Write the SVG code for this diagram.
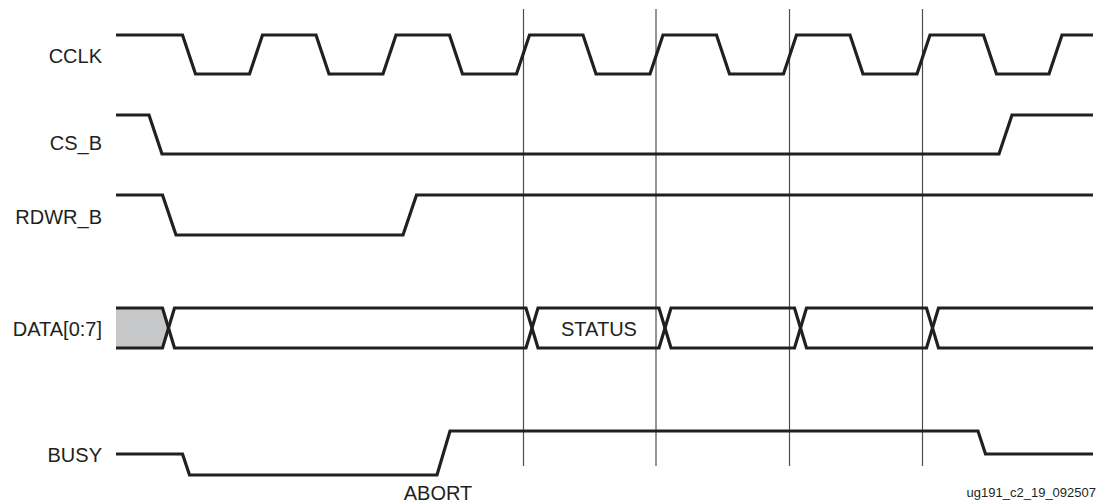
<svg xmlns="http://www.w3.org/2000/svg" width="1099" height="504" viewBox="0 0 1099 504">
<style>
.sig{fill:none;stroke:#231f20;stroke-width:3.2;stroke-linejoin:miter}
.grid{stroke:#4d4d4f;stroke-width:1.2}
.lbl{font-family:"Liberation Sans",Arial,sans-serif;font-size:20px;fill:#231f20}
.note{font-family:"Liberation Sans",Arial,sans-serif;font-size:13px;fill:#231f20}
</style>
<rect width="1099" height="504" fill="#ffffff"/>
<g id="connectors">
<line class="grid" x1="523.5" y1="9" x2="523.5" y2="466"/>
<line class="grid" x1="656" y1="9" x2="656" y2="466"/>
<line class="grid" x1="789.5" y1="9" x2="789.5" y2="466"/>
<line class="grid" x1="922.5" y1="9" x2="922.5" y2="466"/>
</g>
<g id="cclk">
<text class="lbl" x="102" y="63" text-anchor="end">CCLK</text>
<path class="sig" d="M116,35 H182.5 L195.5,74 H249.5 L262.5,35 H316 L329,74 H383 L396,35 H449.5 L462.5,74 H516.5 L529.5,35 H583 L596,74 H650 L663,35 H716.5 L729.5,74 H783.5 L796.5,35 H850 L863,74 H917 L930,35 H983.5 L996.5,74 H1049 L1062,35 H1093"/>
</g>
<g id="cs_b">
<text class="lbl" x="102" y="149.5" text-anchor="end">CS_B</text>
<path class="sig" d="M116,115 H149 L162,154 H999 L1012,115 H1093"/>
</g>
<g id="rdwr_b">
<text class="lbl" x="102" y="223.5" text-anchor="end">RDWR_B</text>
<path class="sig" d="M116,195 H162.5 L176,235 H403 L416.5,195 H1093"/>
</g>
<g id="data">
<text class="lbl" x="102" y="335.5" text-anchor="end">DATA[0:7]</text>
<polygon points="116,308 162.5,308 168.5,328 162.5,348 116,348" fill="#c7c8ca"/>
<path class="sig" d="M116,308 H162.5 L174.5,348 H526 L538,308 H659 L671,348 H794.5 L806.5,308 H926.5 L938.5,348 H1093"/>
<path class="sig" d="M116,348 H162.5 L174.5,308 H526 L538,348 H659 L671,308 H794.5 L806.5,348 H926.5 L938.5,308 H1093"/>
<text class="lbl" x="599" y="335.5" text-anchor="middle">STATUS</text>
</g>
<g id="busy">
<text class="lbl" x="102" y="461.5" text-anchor="end">BUSY</text>
<path class="sig" d="M116,454 H182.5 L189.5,475 H437 L450,431 H978 L985.5,454 H1093"/>
<text class="lbl" x="438" y="500" text-anchor="middle">ABORT</text>
</g>
<text class="note" x="1096" y="497" text-anchor="end">ug191_c2_19_092507</text>
</svg>
